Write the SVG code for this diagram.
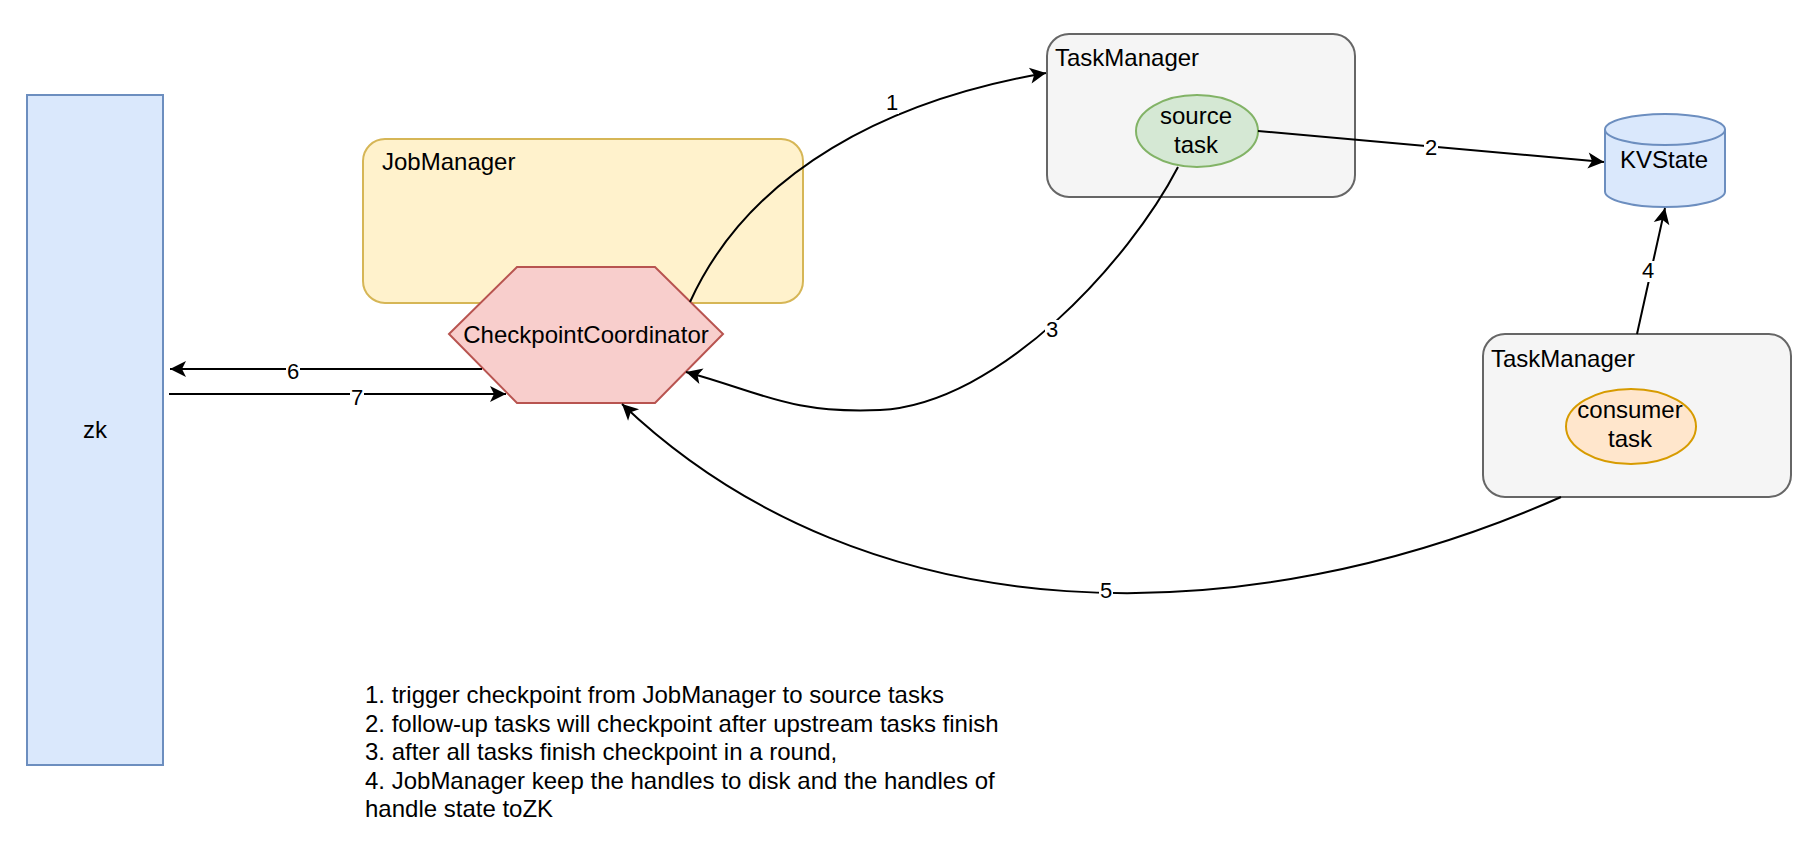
<svg xmlns="http://www.w3.org/2000/svg" width="1816" height="852" viewBox="0 0 1816 852">
<style>
text{font-family:"Liberation Sans",Arial,Helvetica,sans-serif;fill:#000}
.t24{font-size:24px}
.lbl{font-size:22px;text-anchor:middle}
.mid{text-anchor:middle}
.edge{fill:none;stroke:#000;stroke-width:2;marker-end:url(#arr)}
.bg{fill:#fff}
</style>
<defs>
<marker id="arr" markerUnits="userSpaceOnUse" markerWidth="20" markerHeight="20" viewBox="-18 -10 20 20" refX="0" refY="0" orient="auto">
<path d="M0,0 L-16,-8 L-12,0 L-16,8 Z" fill="#000"/>
</marker>
</defs>
<rect width="1816" height="852" fill="#fff"/>
<g id="zk">
<rect x="27" y="95" width="136" height="670" fill="#dae8fc" stroke="#6c8ebf" stroke-width="2"/>
<text class="t24 mid" x="95" y="438">zk</text>
</g>
<g id="jobmanager">
<rect x="363" y="139" width="440" height="164" rx="22" ry="22" fill="#fff2cc" stroke="#d6b656" stroke-width="2"/>
<text class="t24" x="382" y="170">JobManager</text>
</g>
<g id="taskmanager1">
<rect x="1047" y="34" width="308" height="163" rx="22" ry="22" fill="#f5f5f5" stroke="#666666" stroke-width="2"/>
<text class="t24" x="1055" y="66">TaskManager</text>
</g>
<g id="sourcetask">
<ellipse cx="1197" cy="131" rx="61" ry="36" fill="#d5e8d4" stroke="#82b366" stroke-width="2"/>
<text class="t24 mid" x="1196" y="124">source</text>
<text class="t24 mid" x="1196" y="153">task</text>
</g>
<g id="kvstate">
<path d="M1605,129.5 A60,15.5 0 0 1 1725,129.5 L1725,191.5 A60,15.5 0 0 1 1605,191.5 Z" fill="#dae8fc" stroke="#6c8ebf" stroke-width="2"/>
<path d="M1605,129.5 A60,15.5 0 0 0 1725,129.5" fill="none" stroke="#6c8ebf" stroke-width="2"/>
<text class="t24 mid" x="1664" y="168">KVState</text>
</g>
<g id="taskmanager2">
<rect x="1483" y="334" width="308" height="163" rx="22" ry="22" fill="#f5f5f5" stroke="#666666" stroke-width="2"/>
<text class="t24" x="1491" y="367">TaskManager</text>
</g>
<g id="consumertask">
<ellipse cx="1631" cy="426.5" rx="65" ry="37.5" fill="#ffe6cc" stroke="#d79b00" stroke-width="2"/>
<text class="t24 mid" x="1630" y="418">consumer</text>
<text class="t24 mid" x="1630" y="447">task</text>
</g>
<g id="checkpointcoordinator">
<polygon points="449,334 517,267 655,267 723,334 655,403 517,403" fill="#f8cecc" stroke="#b85450" stroke-width="2"/>
<text class="t24 mid" x="586" y="343">CheckpointCoordinator</text>
</g>
<g id="connectors">
<path class="edge" d="M690,302 C750,170 890,100 1046,73"/>
<path class="edge" d="M1258,131 L1604,162"/>
<path class="edge" d="M1178,167 C1130,260 1000,404 880,410 C790,414 760,392 686,372"/>
<path class="edge" d="M1637,334 L1665,208"/>
<path class="edge" d="M1561,497 C1247,636 870,640 622,404"/>
<path class="edge" d="M482,369 L170,369"/>
<path class="edge" d="M169,394 L506,394"/>
<rect class="bg" x="885" y="93" width="14" height="21"/>
<text class="lbl" x="892" y="110">1</text>
<rect class="bg" x="1424" y="137" width="14" height="21"/>
<text class="lbl" x="1431" y="155">2</text>
<rect class="bg" x="1045" y="320" width="14" height="21"/>
<text class="lbl" x="1052" y="337">3</text>
<rect class="bg" x="1641" y="261" width="14" height="21"/>
<text class="lbl" x="1648" y="278">4</text>
<rect class="bg" x="1099" y="580" width="14" height="21"/>
<text class="lbl" x="1106" y="598">5</text>
<rect class="bg" x="286" y="362" width="14" height="21"/>
<text class="lbl" x="293" y="379">6</text>
<rect class="bg" x="350" y="388" width="14" height="21"/>
<text class="lbl" x="357" y="405">7</text>
</g>
<g id="legend">
<text class="t24" x="365" y="703">1. trigger checkpoint from JobManager to source tasks</text>
<text class="t24" x="365" y="731.5">2. follow-up tasks will checkpoint after upstream tasks finish</text>
<text class="t24" x="365" y="760">3. after all tasks finish checkpoint in a round,</text>
<text class="t24" x="365" y="788.5">4. JobManager keep the handles to disk and the handles of</text>
<text class="t24" x="365" y="817">handle state toZK</text>
</g>
</svg>
